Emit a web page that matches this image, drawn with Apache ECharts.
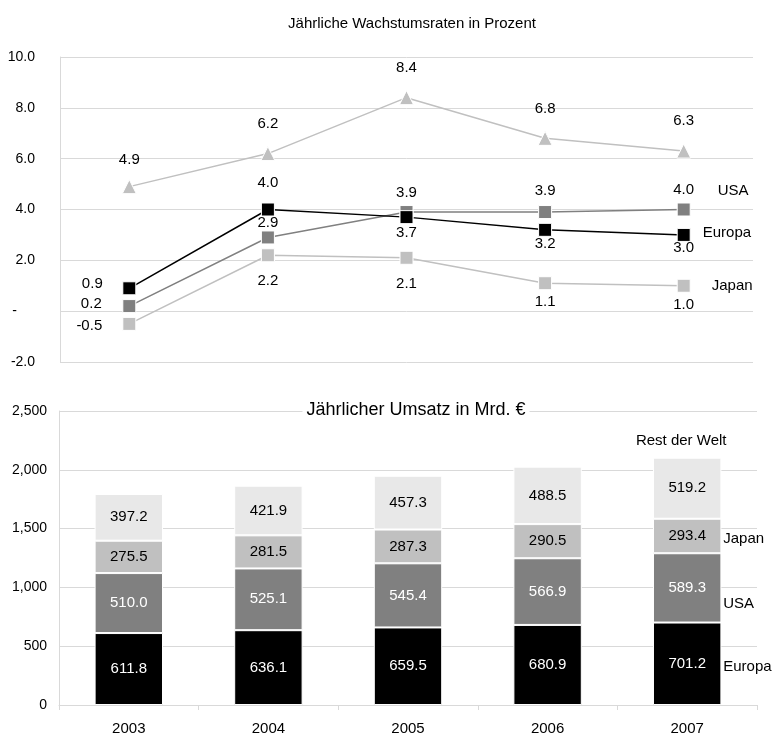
<!DOCTYPE html>
<html>
<head>
<meta charset="utf-8">
<script src="https://cdn.jsdelivr.net/npm/echarts@6/dist/echarts.min.js"></script>
<style>
  html, body { margin: 0; padding: 0; background: #fff; }
  #chart { width: 777px; height: 736px; }
</style>
</head>
<body>
<div id="chart"></div>
<script>
// Jahre
const years = ['2003', '2004', '2005', '2006', '2007'];

// Wachstumsraten in Prozent
const growthRest = [4.9, 6.2, 8.4, 6.8, 6.3];
const growthEuropa = [0.9, 4.0, 3.7, 3.2, 3.0];
const growthUSA = [0.2, 2.9, 3.9, 3.9, 4.0];
const growthJapan = [-0.5, 2.2, 2.1, 1.1, 1.0];

// Umsatz in Mrd. €
const salesEuropa = [611.8, 636.1, 659.5, 680.9, 701.2];
const salesUSA = [510.0, 525.1, 545.4, 566.9, 589.3];
const salesJapan = [275.5, 281.5, 287.3, 290.5, 293.4];
const salesRest = [397.2, 421.9, 457.3, 488.5, 519.2];

const growthTicks = [-2, 0, 2, 4, 6, 8, 10];
const salesTicks = [0, 500, 1000, 1500, 2000, 2500];

const FONT = '"Liberation Sans", Arial, sans-serif';
const GRID = '#d9d9d9';
const FS = 15;      // value labels, category labels, top title
const FS_AXIS = 14; // value axis labels

// label offsets (dx, dy) for the value labels of each growth series
const offRest = [[0, -27], [0, -30], [0, -30], [0, -29], [0, -30]];
const offEuropa = [[-37, -4], [0, -27], [0, 16], [0, 14], [0, 13]];
const offUSA = [[-38, -2], [0, -15], [0, -19], [0, -21], [0, -20]];
const offJapan = [[-40, 2], [0, 26], [0, 26], [0, 19], [0, 19]];

function lineData(values, offsets) {
  return values.map((v, i) => ({
    value: v,
    label: { position: 'inside', offset: offsets[i] }
  }));
}

function endMark(name, values, offset) {
  return {
    symbol: 'circle',
    symbolSize: 0,
    silent: true,
    data: [{ name: name, coord: [years[years.length - 1], values[values.length - 1]] }],
    label: {
      show: true, position: 'right', distance: 0, offset: offset,
      formatter: '{b}', color: '#000', fontSize: FS, fontFamily: FONT
    }
  };
}

function lineSeries(name, values, offsets, color, lineColor, symbol, mark) {
  return {
    name: name,
    type: 'line',
    xAxisIndex: 0, yAxisIndex: 0,
    data: lineData(values, offsets),
    symbol: symbol,
    symbolSize: symbol === 'triangle' ? 14 : 13,
    showAllSymbol: true,
    lineStyle: { color: lineColor, width: 1.5 },
    itemStyle: { color: color, borderColor: '#fff', borderWidth: 1 },
    label: {
      show: true, color: '#000', fontSize: FS, fontFamily: FONT,
      formatter: p => p.value.toFixed(1)
    },
    markPoint: mark,
    z: 3
  };
}

// cumulative values of the 2007 stack
const last = years.length - 1;
const cumE = salesEuropa[last];
const cumU = cumE + salesUSA[last];
const cumJ = cumU + salesJapan[last];
const cumR = cumJ + salesRest[last];

function barMark(name, yValue, offset, position) {
  return {
    symbol: 'circle',
    symbolSize: 0,
    silent: true,
    data: [{ name: name, coord: [years[last], yValue] }],
    label: {
      show: true, position: position, distance: 0, offset: offset,
      formatter: '{b}', color: '#000', fontSize: FS, fontFamily: FONT
    }
  };
}

function barSeries(name, values, color, textColor, mark) {
  return {
    name: name,
    type: 'bar',
    stack: 'umsatz',
    xAxisIndex: 1, yAxisIndex: 1,
    data: values,
    barWidth: '49%',
    itemStyle: { color: color, borderColor: '#fff', borderWidth: 1 },
    label: {
      show: true, position: 'inside', color: textColor,
      fontSize: FS, fontFamily: FONT,
      formatter: p => p.value.toFixed(1)
    },
    markPoint: mark
  };
}

const chart = echarts.init(document.getElementById('chart'), null, { renderer: 'canvas' });

chart.setOption({
  animation: false,
  backgroundColor: '#fff',
  textStyle: { fontFamily: FONT },
  title: [
    {
      text: 'Jährliche Wachstumsraten in Prozent',
      left: 407, top: 11, textAlign: 'center',
      textStyle: { fontSize: FS, fontWeight: 'normal', color: '#000', fontFamily: FONT }
    },
    {
      text: 'Jährlicher Umsatz in Mrd. €',
      left: 412, top: 400, textAlign: 'center',
      backgroundColor: '#fff', padding: [1, 4],
      textStyle: { fontSize: 18, fontWeight: 'normal', color: '#000', fontFamily: FONT },
      z: 10
    }
  ],
  grid: [
    { left: 60, right: 24, top: 57, height: 305 },
    { left: 59, right: 20, top: 411, height: 295 }
  ],
  xAxis: [
    {
      gridIndex: 0, type: 'category', data: years, boundaryGap: true,
      axisLine: { show: false }, axisTick: { show: false }, axisLabel: { show: false }
    },
    {
      gridIndex: 1, type: 'category', data: years, boundaryGap: true,
      axisLine: { show: true, lineStyle: { color: GRID, width: 1 } },
      axisTick: { show: true, length: 5, lineStyle: { color: GRID } },
      axisLabel: { color: '#000', fontSize: FS, fontFamily: FONT, margin: 16 }
    }
  ],
  yAxis: [
    {
      gridIndex: 0, type: 'value',
      min: growthTicks[0], max: growthTicks[growthTicks.length - 1], interval: 2,
      axisLine: { show: true, lineStyle: { color: GRID } },
      axisTick: { show: false },
      splitLine: { show: true, lineStyle: { color: GRID } },
      axisLabel: {
        color: '#000', fontSize: FS_AXIS, fontFamily: FONT, margin: 25,
        formatter: v => v === 0 ? '{dash|-}' : v.toFixed(1),
        rich: { dash: { fontSize: FS_AXIS, color: '#000', fontFamily: FONT, padding: [0, 18, 0, 0] } }
      }
    },
    {
      gridIndex: 1, type: 'value',
      min: salesTicks[0], max: salesTicks[salesTicks.length - 1], interval: 500,
      axisLine: { show: true, lineStyle: { color: GRID } },
      axisTick: { show: false },
      splitLine: { show: true, lineStyle: { color: GRID } },
      axisLabel: {
        color: '#000', fontSize: FS_AXIS, fontFamily: FONT, margin: 12,
        formatter: v => v.toLocaleString('en-US')
      }
    }
  ],
  series: [
    lineSeries('Rest der Welt', growthRest, offRest, '#c0c0c0', '#c0c0c0', 'triangle', undefined),
    lineSeries('Japan', growthJapan, offJapan, '#c0c0c0', '#c0c0c0', 'rect',
      endMark('Japan', growthJapan, [28, 0])),
    lineSeries('USA', growthUSA, offUSA, '#808080', '#808080', 'rect',
      endMark('USA', growthUSA, [34, -19])),
    lineSeries('Europa', growthEuropa, offEuropa, '#000000', '#000000', 'rect',
      endMark('Europa', growthEuropa, [19, -2])),

    barSeries('Europa', salesEuropa, '#000000', '#fff',
      barMark('Europa', cumE / 2, [36, 3], 'right')),
    barSeries('USA', salesUSA, '#808080', '#fff',
      barMark('USA', (cumE + cumU) / 2, [36, 16], 'right')),
    barSeries('Japan', salesJapan, '#c0c0c0', '#000',
      barMark('Japan', (cumU + cumJ) / 2, [36, 3], 'right')),
    barSeries('Rest der Welt', salesRest, '#e8e8e8', '#000',
      barMark('Rest der Welt', cumR, [-6, -17], 'inside'))
  ]
});
</script>
</body>
</html>
